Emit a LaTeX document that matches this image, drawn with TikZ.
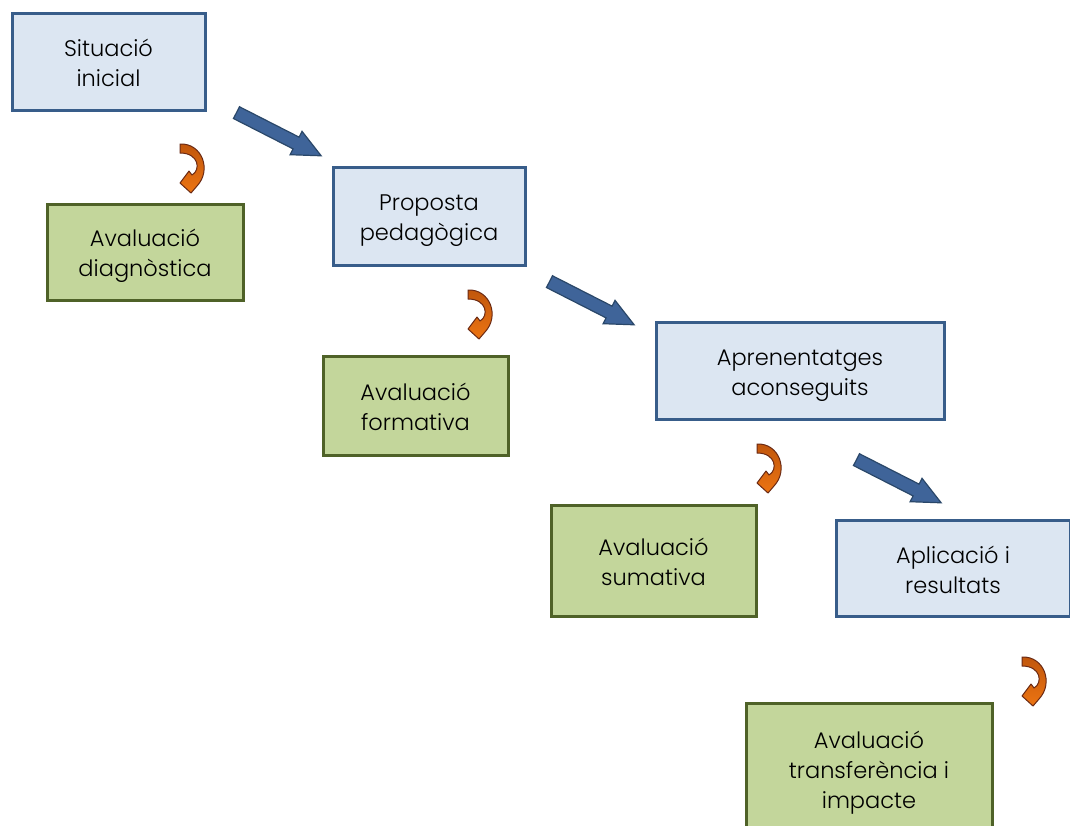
\documentclass[tikz,border=0pt]{standalone}
\usepackage{fontspec}
\setmainfont{Poppins}[UprightFont={* Light}]
\usetikzlibrary{shapes.arrows}
\definecolor{boxblue}{HTML}{DCE6F2}
\definecolor{edgeblue}{HTML}{385D8A}
\definecolor{boxgreen}{HTML}{C3D69B}
\definecolor{edgegreen}{HTML}{4F6228}
\definecolor{arrowblue}{HTML}{3F6499}
\definecolor{arrowedge}{HTML}{2A4769}
\definecolor{turntop}{HTML}{C0560C}
\definecolor{turnbot}{HTML}{EC7412}
\definecolor{turnedge}{HTML}{6B2A14}
% fixed height of the first line, so every label sits alike in its box
\newcommand\firstline{\rule{0pt}{26pt}}
\begin{document}
\begin{tikzpicture}[x=1pt,y=-1pt,
  stage/.style={draw=edgeblue, fill=boxblue, line width=3pt, align=center,
    inner sep=0pt, font=\fontsize{22.5}{30}\selectfont,
    execute at end node={\rule[-6pt]{0pt}{6pt}}},
  check/.style={stage, draw=edgegreen, fill=boxgreen},
  flow/.style={single arrow, draw=arrowedge, fill=arrowblue, line width=1.2pt,
    minimum height=95pt, inner xsep=0pt, inner ysep=6pt,
    single arrow head extend=6.5pt, single arrow tip angle=50, rotate=-27},
  turn/.pic={
    \shade[top color=turntop, bottom color=turnbot, draw=turnedge,
      line width=1pt, line join=round]
      (0,0) .. controls (22,-1) and (32,26) .. (17,42) -- (11,49) -- (0,39)
      -- (9,27) -- (12,31) .. controls (21,26) and (19,9) .. (0,9) -- cycle;
  }
]
\clip (0,0) rectangle (1070,825);
\fill[white] (0,0) rectangle (1070,825);

% stages of the process
\node[stage, minimum width=193pt, minimum height=97pt] (s1) at (108.5,61.5) {\firstline Situació\\inicial};
\node[stage, minimum width=192pt, minimum height=98pt] (s2) at (429,216) {\firstline Proposta\\pedagògica};
\node[stage, minimum width=288pt, minimum height=97pt] (s3) at (800,370.5) {\firstline Aprenentatges\\aconseguits};
\node[stage, minimum width=234pt, minimum height=96pt] (s4) at (953,568) {\firstline Aplicació i\\resultats};

% assessment at each stage
\node[check, minimum width=196pt, minimum height=96pt] (e1) at (145,252) {\firstline Avaluació\\diagnòstica};
\node[check, minimum width=185pt, minimum height=99pt] (e2) at (415.5,405.5) {\firstline Avaluació\\formativa};
\node[check, minimum width=205pt, minimum height=111pt] (e3) at (653.5,560.5) {\firstline Avaluació\\sumativa};
\node[check, minimum width=246pt, minimum height=130pt] (e4) at (869,768) {\firstline Avaluació\\transferència i\\impacte};

% forward steps
\node[flow] (f1) at (272.5,131) {};
\node[flow] (f2) at (585.5,300) {};
\node[flow] (f3) at (892.5,478) {};

% turn-back arrows towards the assessments
\pic (t1) at (180,144) {turn};
\pic (t2) at (468,290) {turn};
\pic (t3) at (757,444) {turn};
\pic (t4) at (1022,657) {turn};
\end{tikzpicture}
\end{document}
